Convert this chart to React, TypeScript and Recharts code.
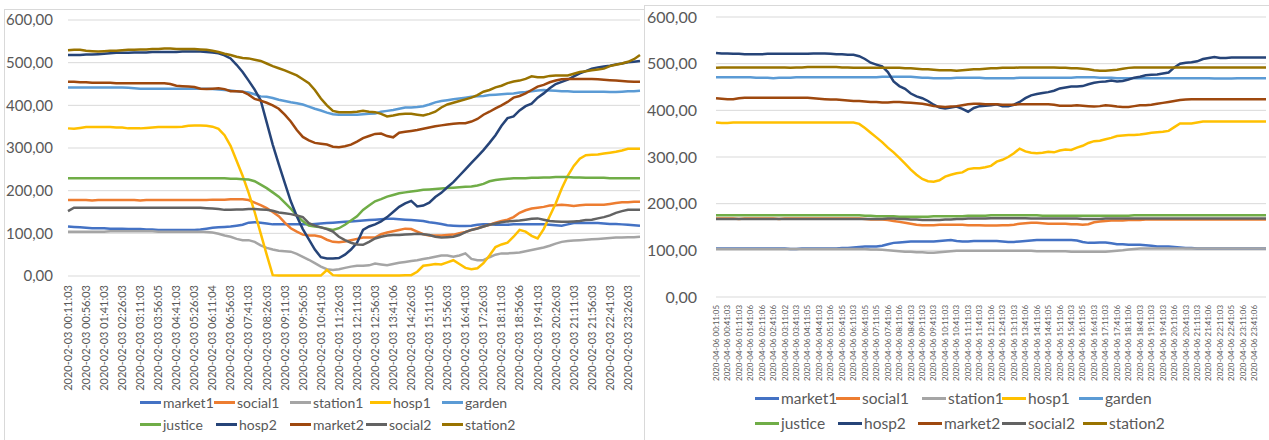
import React from 'react';
import { LineChart, Line, XAxis, YAxis, CartesianGrid } from 'recharts';

const seriesNames = ['market1', 'social1', 'station1', 'hosp1', 'garden', 'justice', 'hosp2', 'market2', 'social2', 'station2'];
const seriesColors = ['#4472C4', '#ED7D31', '#A5A5A5', '#FFC000', '#5B9BD5', '#70AD47', '#264478', '#9E480E', '#636363', '#997300'];
const yTicks = [0, 100, 200, 300, 400, 500, 600];

// x tick labels, left chart shows every 3rd sample, right chart every 2nd
const leftTicks = [
  '2020-02-03 00:11:03', '2020-02-03 00:56:03', '2020-02-03 01:41:03', '2020-02-03 02:26:03',
  '2020-02-03 03:11:03', '2020-02-03 03:56:05', '2020-02-03 04:41:03', '2020-02-03 05:26:03',
  '2020-02-03 06:11:04', '2020-02-03 06:56:03', '2020-02-03 07:41:03', '2020-02-03 08:26:03',
  '2020-02-03 09:11:03', '2020-02-03 09:56:05', '2020-02-03 10:41:03', '2020-02-03 11:26:03',
  '2020-02-03 12:11:03', '2020-02-03 12:56:03', '2020-02-03 13:41:06', '2020-02-03 14:26:03',
  '2020-02-03 15:11:05', '2020-02-03 15:56:03', '2020-02-03 16:41:03', '2020-02-03 17:26:03',
  '2020-02-03 18:11:03', '2020-02-03 18:56:06', '2020-02-03 19:41:03', '2020-02-03 20:26:03',
  '2020-02-03 21:11:03', '2020-02-03 21:56:03', '2020-02-03 22:41:03', '2020-02-03 23:26:03',
];
const rightTicks = [
  '2020-04-06 00:11:05', '2020-04-06 00:41:03', '2020-04-06 01:11:03', '2020-04-06 01:41:06',
  '2020-04-06 02:11:06', '2020-04-06 02:41:06', '2020-04-06 03:11:02', '2020-04-06 03:41:03',
  '2020-04-06 04:11:05', '2020-04-06 04:41:03', '2020-04-06 05:11:06', '2020-04-06 05:41:05',
  '2020-04-06 06:11:03', '2020-04-06 06:41:05', '2020-04-06 07:11:05', '2020-04-06 07:41:06',
  '2020-04-06 08:11:06', '2020-04-06 08:41:03', '2020-04-06 09:11:03', '2020-04-06 09:41:03',
  '2020-04-06 10:11:03', '2020-04-06 10:41:03', '2020-04-06 11:11:03', '2020-04-06 11:41:03',
  '2020-04-06 12:11:06', '2020-04-06 12:41:03', '2020-04-06 13:11:03', '2020-04-06 13:41:06',
  '2020-04-06 14:11:06', '2020-04-06 14:41:05', '2020-04-06 15:11:06', '2020-04-06 15:41:03',
  '2020-04-06 16:11:05', '2020-04-06 16:41:03', '2020-04-06 17:11:03', '2020-04-06 17:41:06',
  '2020-04-06 18:11:06', '2020-04-06 18:41:03', '2020-04-06 19:11:03', '2020-04-06 19:41:03',
  '2020-04-06 20:11:06', '2020-04-06 20:41:03', '2020-04-06 21:11:03', '2020-04-06 21:41:06',
  '2020-04-06 22:11:03', '2020-04-06 22:41:05', '2020-04-06 23:11:06', '2020-04-06 23:41:06',
];

// ---- 2020-02-03 (left) ----
const market1L = [
  116, 115, 114, 113, 112, 112, 112, 111, 111, 111,
  110, 110, 110, 109, 109, 108, 108, 108, 108, 108,
  108, 108, 109, 111, 113, 114, 115, 116, 118, 120,
  125, 126, 125, 123, 121, 121, 121, 121, 121, 121,
  121, 122, 123, 124, 125, 126, 127, 128, 129, 130,
  131, 132, 133, 134, 134, 133, 132, 131, 130, 129,
  126, 124, 122, 119, 118, 117, 117, 118, 120, 121,
  121, 120, 120, 120, 121, 121, 121, 121, 121, 121,
  120, 119, 118, 121, 124, 124, 124, 124, 124, 123,
  122, 122, 121, 120, 119, 118,
];
const social1L = [
  178, 178, 178, 178, 177, 178, 178, 178, 178, 178,
  178, 178, 177, 178, 178, 178, 178, 178, 178, 178,
  178, 178, 178, 178, 179, 179, 179, 180, 180, 180,
  178, 172, 166, 159, 150, 140, 125, 112, 104, 97,
  95, 95, 92, 85, 80, 79, 81, 84, 87, 90,
  90, 90, 98, 102, 105, 108, 111, 110, 104, 98,
  95, 95, 95, 96, 97, 100, 103, 108, 112, 116,
  120, 125, 129, 132, 138, 148, 154, 158, 160, 162,
  165, 166, 167, 166, 164, 166, 167, 167, 167, 167,
  169, 171, 173, 173, 174, 174,
];
const station1L = [
  104, 104, 104, 104, 104, 104, 104, 105, 105, 105,
  105, 105, 105, 105, 105, 104, 104, 104, 104, 104,
  104, 104, 104, 103, 102, 99, 95, 92, 87, 84,
  84, 80, 72, 66, 62, 59, 58, 57, 52, 45,
  38, 30, 22, 16, 14, 16, 19, 22, 24, 24,
  25, 29, 27, 25, 28, 31, 33, 35, 37, 40,
  42, 45, 48, 48, 45, 48, 53, 40, 37, 37,
  44, 50, 53, 53, 54, 55, 58, 61, 64, 67,
  71, 76, 80, 82, 83, 84, 85, 86, 87, 88,
  89, 90, 90, 91, 91, 92,
];
const hosp1L = [
  346, 345, 347, 349, 349, 349, 349, 349, 348, 348,
  346, 346, 346, 347, 348, 349, 349, 349, 349, 350,
  352, 353, 353, 352, 350, 345, 330, 305, 270, 235,
  195, 150, 100, 50, 2, 1, 1, 1, 1, 1,
  1, 1, 1, 14, 2, 1, 1, 1, 1, 1,
  1, 1, 1, 1, 1, 1, 2, 2, 10, 24,
  26, 28, 27, 32, 37, 28, 19, 16, 18, 30,
  48, 68, 74, 78, 92, 108, 104, 94, 88, 110,
  140, 170, 205, 235, 258, 275, 283, 284, 285, 287,
  289, 291, 294, 298, 298, 298,
];
const gardenL = [
  442, 442, 442, 442, 442, 442, 442, 442, 442, 442,
  441, 440, 439, 439, 439, 439, 439, 439, 439, 439,
  439, 439, 439, 439, 438, 437, 436, 435, 433, 432,
  430, 426, 421, 420, 417, 413, 410, 407, 405, 402,
  397, 392, 388, 383, 379, 378, 378, 378, 378, 379,
  380, 381, 385, 387, 389, 392, 395, 395, 396, 398,
  402, 407, 410, 412, 414, 416, 418, 420, 421, 422,
  424, 425, 426, 427, 428, 430, 431, 433, 435, 436,
  435, 434, 433, 433, 432, 432, 432, 432, 432, 432,
  431, 431, 432, 433, 433, 434,
];
const justiceL = [
  229, 229, 229, 229, 229, 229, 229, 229, 229, 229,
  229, 229, 229, 229, 229, 229, 229, 229, 229, 229,
  229, 229, 229, 229, 229, 229, 229, 228, 228, 227,
  226, 222, 214, 206, 196, 186, 172, 158, 142, 128,
  118, 116, 114, 111, 108, 112, 120, 130, 140, 155,
  165, 175, 180, 186, 190, 194, 196, 198, 200, 202,
  203, 204, 205, 206, 207, 208, 209, 210, 212, 216,
  222, 225, 227, 228, 229, 229, 229, 230, 230, 231,
  231, 232, 232, 232, 231, 231, 230, 230, 230, 230,
  229, 229, 229, 229, 229, 229,
];
const hosp2L = [
  518, 518, 518, 519, 519, 520, 521, 522, 523, 523,
  523, 524, 524, 524, 525, 525, 525, 525, 525, 526,
  526, 526, 526, 525, 524, 522, 517, 510, 495, 478,
  458, 437, 412, 360, 308, 262, 218, 175, 140, 110,
  86, 62, 44, 41, 41, 42, 50, 62, 78, 108,
  116, 121, 128, 138, 150, 162, 170, 176, 163, 165,
  172, 185, 195, 208, 220, 235, 250, 265, 280, 295,
  312, 330, 352, 370, 374, 388, 398, 404, 418, 428,
  440, 450, 455, 460, 468, 475, 480, 486, 489, 491,
  493, 496, 498, 501, 502, 504,
];
const market2L = [
  455, 455, 454, 454, 453, 453, 453, 453, 452, 452,
  452, 452, 452, 452, 452, 452, 452, 450, 446, 445,
  444, 443, 439, 438, 439, 440, 438, 433, 433, 432,
  425, 415, 411, 406, 400, 392, 378, 362, 342, 326,
  318, 312, 310, 308, 303, 302, 304, 308, 315, 323,
  328, 333, 334, 328, 325, 336, 338, 340, 342, 345,
  348, 351, 353, 355, 357, 358, 358, 362, 368, 378,
  385, 393, 400, 408, 418, 422, 428, 436, 444, 448,
  454, 458, 461, 462, 462, 462, 462, 462, 461, 460,
  459, 458, 457, 456, 455, 455,
];
const social2L = [
  152, 160, 160, 160, 160, 160, 160, 160, 160, 160,
  160, 160, 160, 160, 160, 160, 160, 160, 160, 160,
  160, 160, 160, 159, 158, 157, 155, 155, 156, 156,
  157, 157, 156, 155, 153, 149, 147, 145, 142, 138,
  124, 118, 114, 110, 104, 92, 84, 78, 74, 73,
  80, 88, 92, 95, 96, 96, 97, 98, 99, 98,
  96, 92, 90, 91, 92, 96, 103, 108, 111, 116,
  120, 123, 126, 128, 129, 130, 132, 134, 135, 132,
  129, 128, 127, 127, 128, 129, 131, 132, 135, 138,
  142, 148, 152, 155, 155, 155,
];
const station2L = [
  529, 530, 530, 528, 527, 526, 527, 528, 528, 529,
  530, 530, 531, 531, 532, 532, 533, 533, 532, 532,
  532, 532, 531, 530, 528, 525, 521, 518, 514, 511,
  510, 507, 504, 498, 492, 487, 482, 476, 470, 461,
  452, 436, 416, 400, 387, 384, 384, 384, 385, 387,
  385, 384, 380, 374, 376, 379, 380, 380, 378, 376,
  380, 385, 395, 402, 406, 410, 414, 418, 424, 432,
  436, 442, 446, 452, 456, 458, 462, 468, 466, 466,
  469, 470, 470, 470, 474, 478, 480, 482, 484, 486,
  492, 495, 498, 502, 508, 518,
];

// ---- 2020-04-06 (right) ----
const market1R = [
  104, 104, 104, 104, 104, 104, 104, 104, 104, 104,
  104, 104, 104, 103, 103, 104, 104, 104, 104, 104,
  104, 104, 105, 105, 106, 107, 108, 108, 108, 110,
  113, 116, 117, 118, 119, 119, 119, 119, 119, 120,
  121, 122, 120, 119, 119, 120, 120, 120, 120, 120,
  119, 118, 118, 119, 120, 121, 122, 122, 122, 122,
  122, 122, 122, 121, 118, 116, 116, 117, 117, 115,
  113, 113, 112, 112, 112, 111, 110, 108, 108, 108,
  107, 106, 105, 105, 104, 104, 104, 104, 104, 104,
  104, 104, 104, 104, 104, 104, 104,
];
const social1R = [
  168, 168, 168, 168, 167, 168, 168, 168, 168, 168,
  168, 167, 168, 168, 168, 168, 168, 168, 168, 168,
  168, 168, 168, 168, 168, 168, 167, 166, 166, 166,
  165, 163, 161, 159, 157, 155, 154, 154, 154, 155,
  155, 155, 155, 155, 154, 154, 154, 153, 153, 153,
  154, 154, 155, 157, 158, 159, 159, 158, 157, 157,
  157, 157, 156, 156, 155, 156, 160, 162, 163, 164,
  164, 164, 165, 165, 165, 166, 166, 166, 166, 166,
  166, 166, 166, 166, 166, 166, 166, 166, 166, 166,
  166, 166, 166, 166, 166, 166, 166,
];
const station1R = [
  103, 103, 103, 103, 103, 103, 103, 103, 103, 103,
  103, 103, 103, 103, 103, 103, 103, 103, 103, 103,
  103, 103, 103, 103, 103, 103, 103, 102, 102, 101,
  100, 99, 98, 97, 97, 96, 96, 95, 95, 96,
  97, 98, 99, 99, 99, 99, 99, 99, 99, 99,
  99, 99, 99, 99, 99, 99, 98, 98, 98, 98,
  98, 98, 97, 97, 97, 97, 97, 97, 97, 98,
  99, 100, 102, 103, 104, 104, 104, 104, 104, 104,
  104, 104, 104, 104, 104, 104, 104, 104, 104, 104,
  104, 104, 104, 104, 104, 104, 104,
];
const hosp1R = [
  374, 373, 373, 374, 374, 374, 374, 374, 374, 374,
  374, 374, 374, 374, 374, 374, 374, 374, 374, 374,
  374, 374, 374, 374, 374, 371, 362, 352, 342, 332,
  320, 310, 298, 286, 273, 262, 253, 248, 247, 250,
  258, 262, 265, 267, 274, 276, 276, 278, 281, 290,
  294, 300, 308, 318, 312, 309, 308, 309, 311, 310,
  314, 316, 315, 320, 324, 330, 334, 335, 338, 341,
  345, 346, 347, 347, 348, 350, 352, 353, 354, 356,
  364, 372, 372, 372, 374, 376, 376, 376, 376, 376,
  376, 376, 376, 376, 376, 376, 376,
];
const gardenR = [
  471, 471, 471, 471, 471, 471, 471, 470, 470, 470,
  469, 470, 470, 470, 471, 471, 471, 471, 471, 471,
  471, 471, 471, 471, 471, 471, 471, 471, 471, 472,
  472, 472, 472, 472, 472, 471, 470, 470, 469, 469,
  469, 469, 470, 470, 470, 470, 470, 469, 469, 469,
  469, 469, 469, 470, 470, 470, 470, 470, 470, 470,
  470, 470, 470, 471, 471, 471, 471, 470, 470, 470,
  469, 469, 469, 469, 469, 469, 469, 469, 469, 469,
  469, 469, 469, 469, 469, 469, 469, 468, 468, 468,
  468, 469, 469, 469, 469, 469, 469,
];
const justiceR = [
  175, 175, 175, 175, 175, 175, 175, 175, 175, 175,
  175, 175, 175, 175, 175, 175, 175, 175, 175, 175,
  175, 175, 175, 175, 175, 175, 174, 174, 173, 173,
  173, 173, 172, 172, 172, 172, 172, 172, 173, 173,
  173, 173, 173, 173, 174, 174, 174, 174, 175, 175,
  175, 175, 175, 175, 175, 175, 175, 174, 174, 174,
  174, 174, 174, 174, 174, 174, 174, 174, 174, 174,
  174, 174, 174, 175, 175, 175, 175, 175, 175, 175,
  175, 175, 175, 175, 175, 175, 175, 175, 175, 175,
  175, 175, 175, 175, 175, 175, 175,
];
const hosp2R = [
  523, 522, 522, 521, 521, 520, 520, 520, 520, 521,
  521, 521, 521, 521, 521, 521, 521, 522, 522, 522,
  521, 520, 520, 519, 519, 516, 510, 502, 498, 494,
  482, 462, 452, 446, 436, 430, 426, 420, 412, 406,
  404, 406, 408, 403, 397, 405, 409, 410, 411, 413,
  409, 409, 412, 418, 426, 432, 435, 437, 439, 442,
  447, 449, 451, 451, 452, 456, 459, 461, 462, 464,
  462, 463, 466, 470, 472, 475, 476, 477, 479, 481,
  492, 500, 502, 503, 505, 510, 512, 514, 512, 512,
  513, 513, 513, 513, 513, 513, 513,
];
const market2R = [
  426, 425, 424, 424, 426, 427, 427, 427, 427, 427,
  427, 427, 427, 427, 427, 427, 427, 426, 425, 424,
  423, 423, 422, 421, 420, 420, 419, 418, 418, 417,
  417, 418, 418, 417, 416, 415, 414, 412, 409, 408,
  407, 408, 409, 411, 413, 414, 414, 413, 413, 413,
  412, 412, 412, 413, 413, 413, 413, 413, 413, 412,
  410, 410, 410, 411, 410, 409, 408, 409, 411, 410,
  408, 407, 407, 409, 411, 411, 412, 414, 416, 418,
  420, 422, 423, 424, 424, 424, 424, 424, 424, 424,
  424, 424, 424, 424, 424, 424, 424,
];
const social2R = [
  167, 167, 167, 167, 167, 167, 167, 167, 167, 167,
  167, 167, 167, 167, 167, 167, 167, 167, 167, 167,
  167, 167, 167, 167, 167, 167, 167, 167, 167, 167,
  168, 168, 167, 167, 166, 166, 165, 165, 165, 165,
  166, 166, 167, 167, 168, 168, 168, 168, 169, 169,
  169, 169, 169, 169, 169, 168, 168, 168, 168, 168,
  168, 168, 168, 168, 167, 167, 167, 167, 168, 168,
  168, 168, 168, 168, 168, 168, 168, 168, 168, 168,
  168, 168, 168, 168, 168, 168, 168, 168, 168, 168,
  168, 168, 168, 168, 168, 168, 168,
];
const station2R = [
  491, 492, 492, 492, 492, 492, 492, 492, 492, 492,
  492, 492, 492, 491, 492, 492, 493, 493, 493, 493,
  493, 493, 492, 492, 491, 491, 491, 491, 491, 491,
  491, 491, 491, 490, 490, 489, 488, 488, 487, 486,
  486, 486, 485, 486, 487, 488, 488, 489, 490, 490,
  491, 491, 491, 492, 492, 492, 492, 492, 492, 492,
  491, 491, 490, 490, 489, 488, 486, 485, 485, 486,
  487, 489, 491, 492, 492, 492, 492, 492, 492, 492,
  492, 492, 492, 492, 492, 492, 492, 492, 492, 492,
  492, 492, 492, 492, 492, 492, 492,
];

const leftSeries = [market1L, social1L, station1L, hosp1L, gardenL, justiceL, hosp2L, market2L, social2L, station2L];
const rightSeries = [market1R, social1R, station1R, hosp1R, gardenR, justiceR, hosp2R, market2R, social2R, station2R];

function buildRows(series: number[][]) {
  return series[0].map((_, i) => {
    const row: Record<string, number> = { i };
    seriesNames.forEach((name, k) => {
      row[name] = series[k][i];
    });
    return row;
  });
}

const leftData = buildRows(leftSeries);
const rightData = buildRows(rightSeries);

const FONT = 'Lato, "Liberation Sans", sans-serif';
const TEXT = '#595959';
const GRID = '#d9d9d9';

const fmt = (v: number) => v.toFixed(2).replace('.', ',');

const makeTick = (labels: string[], step: number, fontSize: number, gap: number) => (props: any) => {
  const { x, y, payload } = props;
  const idx = Number(payload.value);
  if (idx % step !== 0 || idx / step >= labels.length) return <g />;
  return (
    <g transform={`translate(${x},${y})`}>
      <text transform="rotate(-90)" x={-gap} y={0} dy="0.35em" textAnchor="end" fill={TEXT} fontSize={fontSize} fontFamily={FONT}>
        {labels[idx / step]}
      </text>
    </g>
  );
};

// legend placement: [line start x, row center y]
const leftLegendPos = [[140, 402], [214, 402], [290, 402], [370, 402], [442, 402], [140, 424], [216, 424], [290, 424], [366, 424], [442, 424]];
const rightLegendPos = [[755, 398], [836, 398], [922, 398], [1002, 398], [1079, 398], [755, 423], [838, 423], [918, 423], [1002, 423], [1083, 423]];

function LegendBlock({ pos, lineW, fontSize }: { pos: number[][]; lineW: number; fontSize: number }) {
  return (
    <>
      {seriesNames.map((name, k) => (
        <div
          key={name}
          style={{
            position: 'absolute',
            left: pos[k][0],
            top: pos[k][1] - 10,
            height: 20,
            display: 'flex',
            alignItems: 'center',
            fontSize,
            color: TEXT,
            fontFamily: FONT,
            whiteSpace: 'nowrap',
          }}
        >
          <span style={{ display: 'inline-block', width: lineW, height: 3, background: seriesColors[k], marginRight: 2 }} />
          {name}
        </div>
      ))}
    </>
  );
}

function Panel({ data, width, height, margin, yWidth, yFont, yGap, xHeight, tick }: any) {
  return (
    <LineChart width={width} height={height} data={data} margin={margin}>
      <CartesianGrid vertical={false} stroke={GRID} strokeWidth={1} />
      <XAxis
        dataKey="i"
        type="category"
        interval={0}
        height={xHeight}
        axisLine={false}
        tickLine={false}
        tickSize={0}
        tickMargin={0}
        tick={tick}
      />
      <YAxis
        type="number"
        domain={[0, 600]}
        ticks={yTicks}
        width={yWidth}
        axisLine={false}
        tickLine={false}
        tickSize={0}
        tickMargin={yGap}
        tickFormatter={fmt}
        tick={{ fill: TEXT, fontSize: yFont, fontFamily: FONT }}
      />
      {seriesNames.map((name, k) => (
        <Line
          key={name}
          type="linear"
          dataKey={name}
          stroke={seriesColors[k]}
          strokeWidth={2.5}
          dot={false}
          isAnimationActive={false}
        />
      ))}
    </LineChart>
  );
}

export default function App() {
  return (
    <div style={{ position: 'absolute', left: 0, top: 0, width: 1269, height: 440, overflow: 'hidden', background: '#fff', fontFamily: FONT }}>
      <div style={{ position: 'absolute', left: 4, top: 9, width: 640, height: 440, borderLeft: `1px solid ${GRID}`, borderTop: `1px solid ${GRID}` }} />
      <div style={{ position: 'absolute', left: 644, top: 5, width: 630, height: 440, border: `1px solid ${GRID}` }} />

      <div style={{ position: 'absolute', left: 0, top: 0 }}>
        <Panel
          data={leftData}
          width={641}
          height={440}
          margin={{ top: 20, right: 1, left: 0, bottom: 0 }}
          yWidth={68}
          yFont={15}
          yGap={15}
          xHeight={164}
          tick={makeTick(leftTicks, 3, 11, 9)}
        />
      </div>
      <div style={{ position: 'absolute', left: 644, top: 0 }}>
        <Panel
          data={rightData}
          width={625}
          height={440}
          margin={{ top: 17, right: 3, left: 0, bottom: 0 }}
          yWidth={72}
          yFont={16}
          yGap={19}
          xHeight={143}
          tick={makeTick(rightTicks, 2, 7.9, 8)}
        />
      </div>

      <LegendBlock pos={leftLegendPos} lineW={21} fontSize={14} />
      <LegendBlock pos={rightLegendPos} lineW={24} fontSize={15.5} />
    </div>
  );
}
